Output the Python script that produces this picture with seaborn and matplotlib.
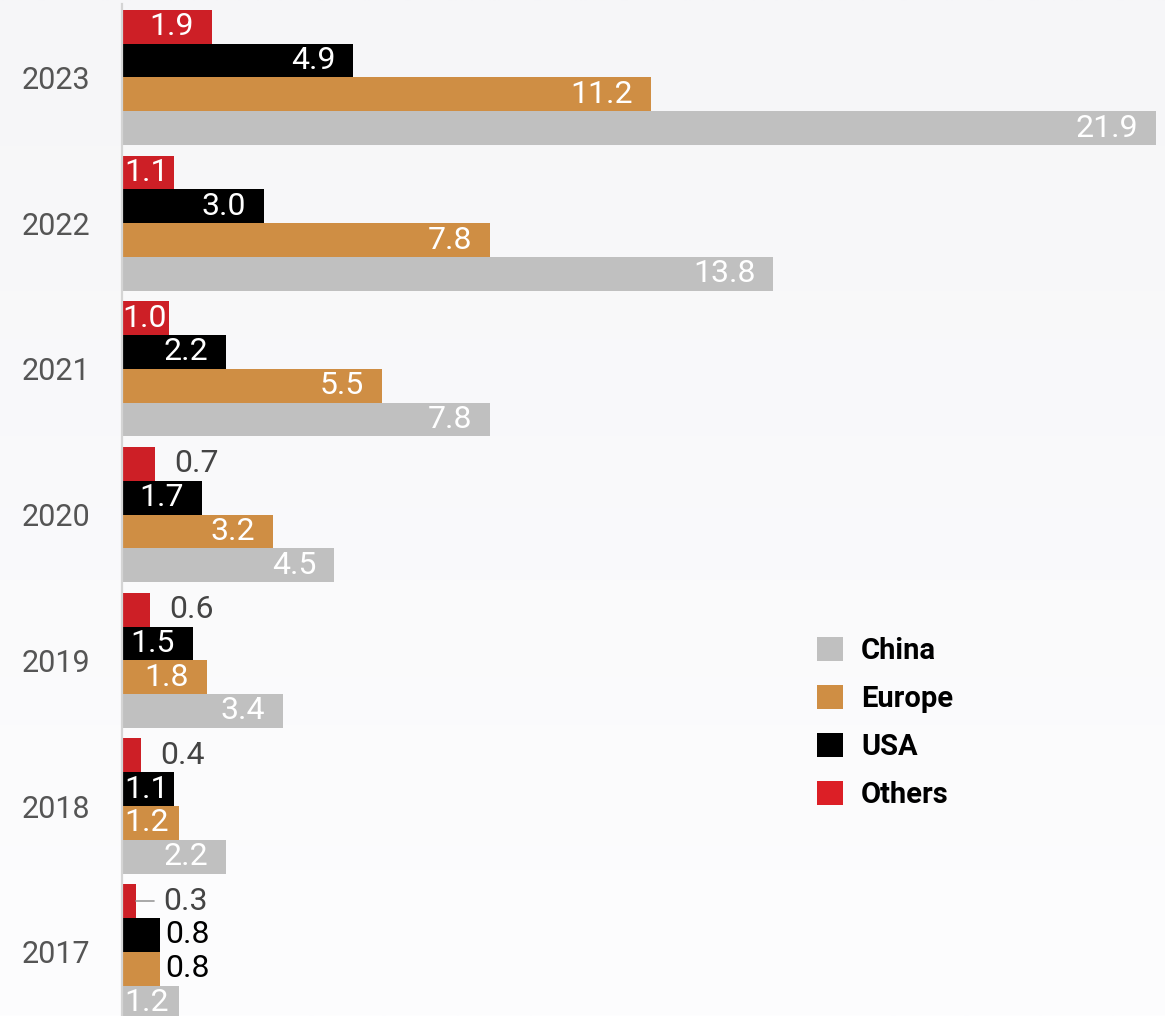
import numpy as np
import pandas as pd
import seaborn as sns
import matplotlib.pyplot as plt
from matplotlib.patches import Patch

# Annual installations by region
years = ["2023", "2022", "2021", "2020", "2019", "2018", "2017"]
china = [21.9, 13.8, 7.8, 4.5, 3.4, 2.2, 1.2]
europe = [11.2, 7.8, 5.5, 3.2, 1.8, 1.2, 0.8]
usa = [4.9, 3.0, 2.2, 1.7, 1.5, 1.1, 0.8]
others = [1.9, 1.1, 1.0, 0.7, 0.6, 0.4, 0.3]

bar_order = ["Others", "USA", "Europe", "China"]      # top to bottom inside a year
legend_order = ["China", "Europe", "USA", "Others"]
palette = {"China": "#c0c0c0", "Europe": "#cf8e44", "USA": "#000000", "Others": "#cd1f26"}
legend_colors = {"China": "#c0c0c0", "Europe": "#cf8e44", "USA": "#000000", "Others": "#dc1f26"}

df = pd.DataFrame({"year": years, "China": china, "Europe": europe,
                   "USA": usa, "Others": others})
long = df.melt(id_vars="year", var_name="region", value_name="value")

sns.set_theme(style="white")
plt.rcParams["font.family"] = ["Roboto", "DejaVu Sans"]

W, H = 1165, 1016
fig = plt.figure(figsize=(W / 100, H / 100), dpi=100)

# soft vertical background
bg = fig.add_axes([0, 0, 1, 1], zorder=-10)
grad = np.linspace(0, 1, 512)[:, None]
c_top = np.array([0xf6, 0xf6, 0xf8]) / 255
c_bot = np.array([0xfd, 0xfd, 0xfe]) / 255
img = c_top[None, None, :] * (1 - grad[..., None]) + c_bot[None, None, :] * grad[..., None]
bg.imshow(np.repeat(img, 2, axis=1), aspect="auto", extent=[0, 1, 0, 1],
          interpolation="bilinear")
bg.set_axis_off()

left_px = 122
ax = fig.add_axes([left_px / W, 0, 1 - left_px / W, 1012 / H])
ax.patch.set_alpha(0)

sns.barplot(data=long, x="value", y="year", hue="region", order=years,
            hue_order=bar_order, palette=palette, width=0.927, orient="h",
            saturation=1, errorbar=None, linewidth=0, legend=False, ax=ax)

px_per_unit = 47.21
ax.set_xlim(0, (W - left_px) / px_per_unit)
ax.set_ylim(6.441, -0.504)

ax.set_xlabel("")
ax.set_ylabel("")
ax.set_xticks([])
ax.tick_params(axis="y", length=0, pad=23, labelsize=22, labelcolor="#555555")
for s in ["top", "right", "bottom"]:
    ax.spines[s].set_visible(False)
ax.spines["left"].set_color("#d4d4d4")
ax.spines["left"].set_linewidth(1.6)

# how small values are labelled outside their bars
outside_style = {("2017", "Others"): "leader",
                 ("2017", "USA"): "tight",
                 ("2017", "Europe"): "tight"}

def px_to_data(px):
    return px / px_per_unit

fs = 23
text_px = 45
for region, container in zip(bar_order, ax.containers):
    for year, bar in zip(years, container.patches):
        v = bar.get_width()
        yc = bar.get_y() + bar.get_height() / 2
        label = f"{v:.1f}"
        bar_px = v * px_per_unit
        if v >= 1.0:
            pad = min(18, max(2, bar_px - text_px - 2))
            ax.text(v - px_to_data(pad), yc, label, ha="right", va="center",
                    color="white", fontsize=fs)
        else:
            style = outside_style.get((year, region), "normal")
            if style == "leader":
                ax.plot([v, v + px_to_data(18)], [yc, yc], color="#9a9a9a", lw=1.2)
                ax.text(v + px_to_data(27), yc, label, ha="left", va="center",
                        color="#444444", fontsize=fs)
            elif style == "tight":
                ax.text(v + px_to_data(5), yc, label, ha="left", va="center",
                        color="#000000", fontsize=fs)
            else:
                ax.text(v + px_to_data(19), yc, label, ha="left", va="center",
                        color="#444444", fontsize=fs)

handles = [Patch(facecolor=legend_colors[r], edgecolor="none", label=r) for r in legend_order]
leg = fig.legend(handles=handles, loc="upper left",
                 bbox_to_anchor=(817 / W, 1 - 637 / H), frameon=False,
                 prop={"weight": "bold", "size": 21}, handlelength=0.89,
                 handleheight=0.89, handletextpad=0.62, labelspacing=0.68,
                 borderpad=0, borderaxespad=0, labelcolor="#000000")

fig.savefig("out.png", dpi=100)
